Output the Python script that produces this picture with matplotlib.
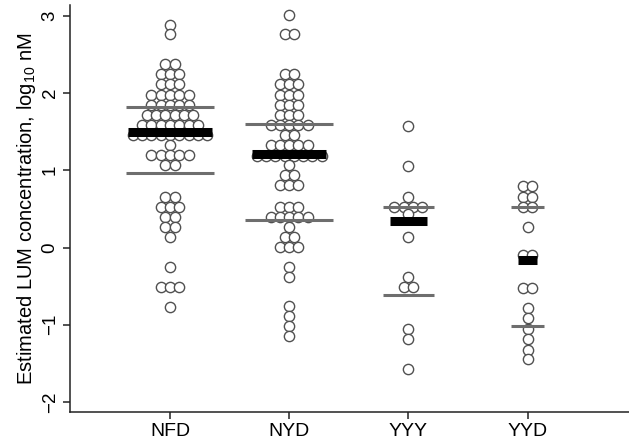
import numpy as np
import matplotlib
matplotlib.use('Agg')
import matplotlib.pyplot as plt

plt.rcParams['font.family'] = ['Liberation Sans', 'DejaVu Sans']
plt.rcParams['mathtext.default'] = 'regular'

groups = ['NFD', 'NYD', 'YYY', 'YYD']

# dot rows: level (log10 nM) and how many dots sit on it
nfd_levels = [2.88, 2.76, 2.37, 2.24, 2.11, 1.98, 1.85, 1.72, 1.59, 1.46, 1.33, 1.20, 1.07,
              0.66, 0.53, 0.40, 0.27, 0.14, -0.25, -0.51, -0.77]
nfd_counts = [1, 1, 2, 3, 3, 5, 5, 6, 7, 9, 1, 5, 2,
              2, 3, 2, 2, 1, 1, 3, 1]

nyd_levels = [3.01, 2.76, 2.24, 2.11, 1.98, 1.85, 1.72, 1.59, 1.46, 1.33, 1.18, 1.07, 0.94, 0.81,
              0.53, 0.40, 0.27, 0.14, 0.01, -0.25, -0.38, -0.76, -0.89, -1.02, -1.15]
nyd_counts = [1, 2, 2, 3, 3, 3, 3, 5, 2, 5, 8, 1, 2, 3,
              3, 5, 1, 2, 3, 1, 1, 1, 1, 1, 1]

yyy_levels = [1.57, 1.05, 0.66, 0.53, 0.43, 0.13, -0.38, -0.51, -1.05, -1.18, -1.57]
yyy_counts = [1, 1, 1, 4, 1, 1, 1, 2, 1, 1, 1]

yyd_levels = [0.79, 0.66, 0.53, 0.26, -0.10, -0.52, -0.78, -0.91, -1.05, -1.19, -1.32, -1.44]
yyd_counts = [2, 2, 2, 1, 2, 2, 1, 1, 1, 1, 1, 1]

medians = [1.50, 1.21, 0.34, -0.16]
q1 = [0.97, 0.35, -0.61, -1.02]
q3 = [1.82, 1.60, 0.53, 0.53]

levels = [nfd_levels, nyd_levels, yyy_levels, yyd_levels]
counts = [nfd_counts, nyd_counts, yyy_counts, yyd_counts]

fig = plt.figure(figsize=(6.29, 4.46), dpi=100)
ax = fig.add_axes([0.111, 0.076, 0.889, 0.913])

dx = 0.078  # horizontal step between dots in a row
for i, (lv, ct) in enumerate(zip(levels, counts)):
    xc = i + 1
    xs, ys = [], []
    for v, n in zip(lv, ct):
        offs = (np.arange(n) - (n - 1) / 2) * dx
        xs.extend(xc + offs)
        ys.extend([v] * n)
    ax.plot(xs, ys, 'o', ms=7.4, mfc='white', mec='#505050', mew=1.0, zorder=2)

    wmax = max(ct) * dx
    qw = min(wmax + 1.5 * dx, 0.74)
    for q in (q1[i], q3[i]):
        ax.plot([xc - qw / 2, xc + qw / 2], [q, q], color='#6e6e6e', lw=2.2,
                solid_capstyle='butt', zorder=3)
    ax.plot([xc - wmax / 2, xc + wmax / 2], [medians[i], medians[i]], color='black',
            lw=6.5, solid_capstyle='butt', zorder=4)

ax.set_xlim(0.16, 4.85)
ax.set_ylim(-2.13, 3.14)
ax.set_xticks(range(1, 5))
ax.set_xticklabels(groups, fontsize=14)
ax.set_yticks([-2, -1, 0, 1, 2, 3])
ax.set_yticklabels(['\u22122', '\u22121', '0', '1', '2', '3'], fontsize=13.5,
                   rotation=90, va='center')
ax.set_ylabel('Estimated LUM concentration, log$_{10}$ nM', fontsize=14.5, labelpad=3)

for s in ('top', 'right'):
    ax.spines[s].set_visible(False)
for s in ('left', 'bottom'):
    ax.spines[s].set_linewidth(1.1)
    ax.spines[s].set_color('#222222')
ax.tick_params(direction='out', length=5, width=1.1, color='#222222', pad=3)

fig.savefig('out.png', dpi=100, facecolor='white')
